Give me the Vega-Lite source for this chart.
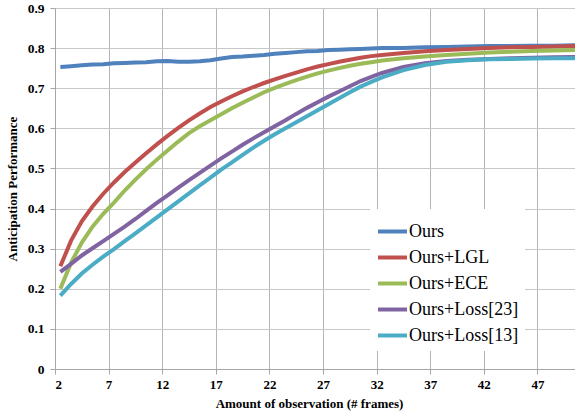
{
  "$schema": "https://vega.github.io/schema/vega-lite/v6.json",
  "width": 520,
  "height": 361,
  "autosize": "none",
  "padding": {"left": 55, "top": 8, "right": 0, "bottom": 45},
  "config": {"view": {"stroke": null}, "font": "Liberation Serif"},
  "data": {"values": [
    {"x": 2, "a": 0.753, "b": 0.256, "c": 0.200, "d": 0.242, "e": 0.183},
    {"x": 3, "a": 0.755, "b": 0.320, "c": 0.265, "d": 0.262, "e": 0.212},
    {"x": 4, "a": 0.757, "b": 0.368, "c": 0.315, "d": 0.283, "e": 0.238},
    {"x": 5, "a": 0.759, "b": 0.405, "c": 0.355, "d": 0.301, "e": 0.260},
    {"x": 6, "a": 0.760, "b": 0.437, "c": 0.387, "d": 0.319, "e": 0.280},
    {"x": 7, "a": 0.762, "b": 0.465, "c": 0.415, "d": 0.337, "e": 0.299},
    {"x": 8, "a": 0.763, "b": 0.491, "c": 0.445, "d": 0.355, "e": 0.319},
    {"x": 9, "a": 0.764, "b": 0.515, "c": 0.472, "d": 0.374, "e": 0.338},
    {"x": 10, "a": 0.765, "b": 0.538, "c": 0.498, "d": 0.394, "e": 0.358},
    {"x": 11, "a": 0.767, "b": 0.560, "c": 0.522, "d": 0.414, "e": 0.378},
    {"x": 12, "a": 0.768, "b": 0.581, "c": 0.545, "d": 0.433, "e": 0.398},
    {"x": 13, "a": 0.766, "b": 0.601, "c": 0.567, "d": 0.452, "e": 0.418},
    {"x": 14, "a": 0.766, "b": 0.620, "c": 0.588, "d": 0.471, "e": 0.438},
    {"x": 15, "a": 0.767, "b": 0.637, "c": 0.605, "d": 0.489, "e": 0.458},
    {"x": 16, "a": 0.770, "b": 0.653, "c": 0.620, "d": 0.507, "e": 0.477},
    {"x": 17, "a": 0.774, "b": 0.667, "c": 0.635, "d": 0.525, "e": 0.497},
    {"x": 18, "a": 0.778, "b": 0.680, "c": 0.650, "d": 0.542, "e": 0.515},
    {"x": 19, "a": 0.779, "b": 0.692, "c": 0.664, "d": 0.559, "e": 0.534},
    {"x": 20, "a": 0.781, "b": 0.703, "c": 0.677, "d": 0.575, "e": 0.552},
    {"x": 21, "a": 0.783, "b": 0.713, "c": 0.690, "d": 0.590, "e": 0.569},
    {"x": 22, "a": 0.786, "b": 0.722, "c": 0.701, "d": 0.605, "e": 0.585},
    {"x": 23, "a": 0.788, "b": 0.731, "c": 0.711, "d": 0.620, "e": 0.600},
    {"x": 24, "a": 0.790, "b": 0.739, "c": 0.720, "d": 0.636, "e": 0.615},
    {"x": 25, "a": 0.792, "b": 0.747, "c": 0.729, "d": 0.651, "e": 0.630},
    {"x": 26, "a": 0.793, "b": 0.754, "c": 0.737, "d": 0.665, "e": 0.645},
    {"x": 27, "a": 0.795, "b": 0.760, "c": 0.744, "d": 0.679, "e": 0.660},
    {"x": 28, "a": 0.796, "b": 0.766, "c": 0.750, "d": 0.692, "e": 0.675},
    {"x": 29, "a": 0.797, "b": 0.771, "c": 0.756, "d": 0.705, "e": 0.690},
    {"x": 30, "a": 0.798, "b": 0.776, "c": 0.761, "d": 0.718, "e": 0.704},
    {"x": 31, "a": 0.799, "b": 0.780, "c": 0.765, "d": 0.728, "e": 0.716},
    {"x": 32, "a": 0.800, "b": 0.783, "c": 0.769, "d": 0.738, "e": 0.727},
    {"x": 34, "a": 0.800, "b": 0.788, "c": 0.775, "d": 0.753, "e": 0.745},
    {"x": 36, "a": 0.802, "b": 0.792, "c": 0.779, "d": 0.762, "e": 0.758},
    {"x": 38, "a": 0.803, "b": 0.795, "c": 0.783, "d": 0.768, "e": 0.766},
    {"x": 40, "a": 0.804, "b": 0.798, "c": 0.786, "d": 0.771, "e": 0.770},
    {"x": 42, "a": 0.805, "b": 0.800, "c": 0.789, "d": 0.773, "e": 0.772},
    {"x": 44, "a": 0.805, "b": 0.802, "c": 0.791, "d": 0.775, "e": 0.773},
    {"x": 46, "a": 0.806, "b": 0.803, "c": 0.793, "d": 0.776, "e": 0.774},
    {"x": 48, "a": 0.806, "b": 0.804, "c": 0.794, "d": 0.777, "e": 0.775},
    {"x": 50, "a": 0.807, "b": 0.805, "c": 0.795, "d": 0.778, "e": 0.775}
  ]},
  "transform": [
    {"fold": ["a", "b", "c", "d", "e"], "as": ["series", "value"]}
  ],
  "mark": {"type": "line", "strokeWidth": 4, "clip": true},
  "encoding": {
    "x": {
      "field": "x", "type": "quantitative",
      "scale": {"domain": [1.5, 50], "nice": false, "zero": false},
      "axis": {
        "values": [1.5, 6.5, 11.5, 16.5, 21.5, 26.5, 31.5, 36.5, 41.5, 46.5],
        "labelExpr": "'' + (datum.value + 0.5)",
        "labelDx": 5.4,
        "labelFontSize": 13, "labelFontWeight": "bold", "labelColor": "#000000", "labelFont": "Liberation Serif",
        "labelPadding": 4,
        "tickSize": 5, "tickColor": "#A6A6A6",
        "domainColor": "#A6A6A6",
        "grid": true, "gridColor": "#B4B4B4",
        "title": "Amount of observation (# frames)",
        "titleFont": "Liberation Serif", "titleFontSize": 13, "titleFontWeight": "bold", "titleColor": "#000000",
        "titlePadding": 6,
        "titleX": 254
      }
    },
    "y": {
      "field": "value", "type": "quantitative",
      "scale": {"domain": [0, 0.9], "nice": false},
      "axis": {
        "values": [0, 0.1, 0.2, 0.3, 0.4, 0.5, 0.6, 0.7, 0.8, 0.9],
        "format": ".1~f",
        "labelFontSize": 13.5, "labelFontWeight": "bold", "labelColor": "#000000", "labelFont": "Liberation Serif",
        "labelPadding": 6,
        "tickSize": 5, "tickColor": "#A6A6A6",
        "domainColor": "#A6A6A6",
        "grid": true, "gridColor": "#C8C8C8",
        "title": "Anticipation Performance",
        "titleFont": "Liberation Serif", "titleFontSize": 13, "titleFontWeight": "bold", "titleColor": "#000000",
        "titlePadding": 8
      }
    },
    "color": {
      "field": "series", "type": "nominal",
      "scale": {
        "domain": ["a", "b", "c", "d", "e"],
        "range": ["#4F81BD", "#C0504D", "#9BBB59", "#8064A2", "#4BACC6"]
      },
      "legend": {
        "title": null,
        "orient": "none",
        "legendX": 315,
        "legendY": 201,
        "fillColor": "#FFFFFF",
        "padding": 6,
        "symbolType": "stroke",
        "symbolSize": 841,
        "symbolStrokeWidth": 4,
        "labelFont": "Liberation Serif",
        "labelFontSize": 18,
        "labelColor": "#000000",
        "labelOffset": 0,
        "rowPadding": -1,
        "labelLimit": 300,
        "labelExpr": "{'a': 'Ours', 'b': 'Ours+LGL', 'c': 'Ours+ECE', 'd': 'Ours+Loss[23]', 'e': 'Ours+Loss[13]'}[datum.label]"
      }
    },
    "order": {"field": "x", "type": "quantitative"}
  }
}
